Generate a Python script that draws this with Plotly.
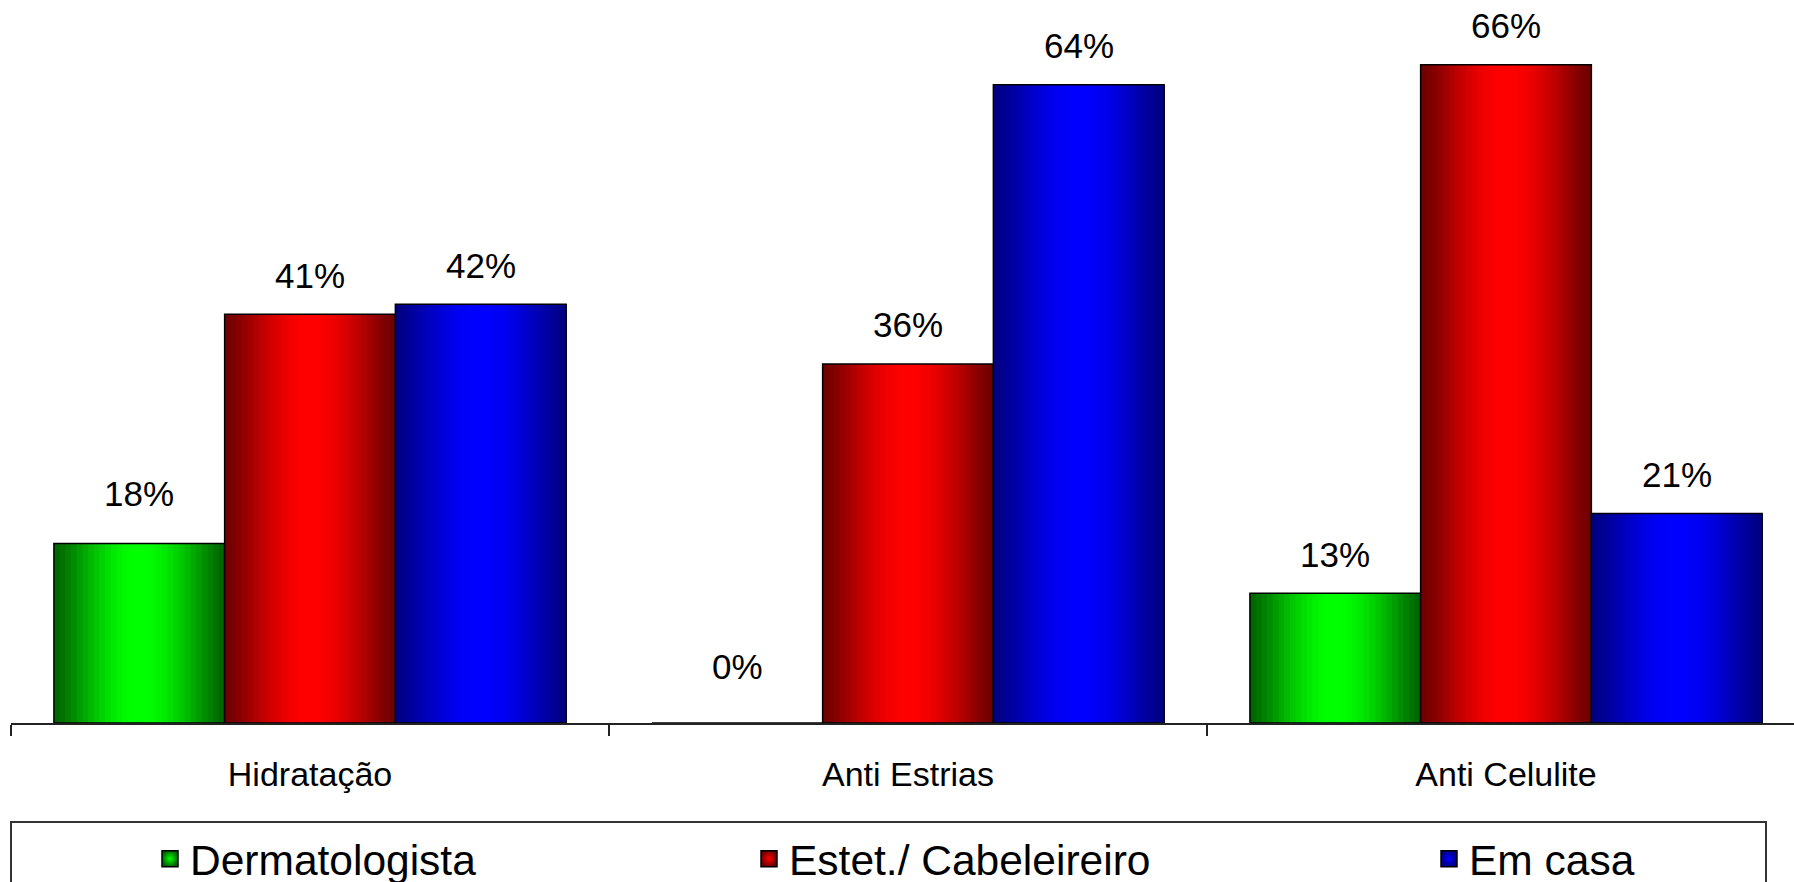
import math
import plotly.graph_objects as go

# ---------------- data ----------------
categories = ["Hidratação", "Anti Estrias", "Anti Celulite"]
series_names = ["Dermatologista", "Estet./ Cabeleireiro", "Em casa"]
dermatologista = [0.18, 0.00, 0.13]
estet_cabeleireiro = [0.41, 0.36, 0.66]
em_casa = [0.42, 0.64, 0.21]
series_values = [dermatologista, estet_cabeleireiro, em_casa]

# ---------------- styles ----------------
edge_colors = [(0, 100, 0), (110, 0, 0), (0, 0, 130)]
center_colors = [(0, 255, 0), (255, 0, 0), (0, 0, 255)]
legend_widths = [554, 635, 250]
label_lift = 39                      # px between bar top and label centre
label_extra_lift = {(0, 0): 11, (0, 1): 18}   # (series, category) -> extra px
FONT = "Liberation Sans, Arial, sans-serif"

W, H = 1794, 882
M_L, M_R, M_T, M_B = 11, 0, 0, 159
plot_w = W - M_L - M_R
plot_h = H - M_T - M_B
cat_px = 598.0
x_range = [-0.5, -0.5 + plot_w / cat_px]
y_max = 0.725
bar_w = 0.2855
n_strips = 30


def mix(a, b, f):
    return "rgb(%d,%d,%d)" % tuple(round(a[i] + (b[i] - a[i]) * f) for i in range(3))


fig = go.Figure()

for s, (name, vals) in enumerate(zip(series_names, series_values)):
    off0 = (s - 1.5) * bar_w
    sw = bar_w / n_strips
    for k in range(n_strips):
        t = (k + 0.5) / n_strips
        f = math.sin(math.pi * t) ** 1.3
        # each strip runs to the bar's right edge; later strips cover earlier ones (no seams)
        fig.add_trace(go.Bar(
            x=categories, y=vals,
            width=[bar_w - k * sw] * len(categories),
            offset=[off0 + k * sw] * len(categories),
            marker=dict(color=mix(edge_colors[s], center_colors[s], f), line=dict(width=0)),
            showlegend=False, hoverinfo="skip",
        ))
    # outline
    fig.add_trace(go.Bar(
        x=categories, y=vals,
        width=[bar_w] * len(categories),
        offset=[off0] * len(categories),
        marker=dict(color="rgba(0,0,0,0)", line=dict(color="black", width=1.5)),
        showlegend=False, name=name,
        hovertemplate="%{x}: %{y:.0%}<extra>" + name + "</extra>",
    ))

# legend entries
for s, name in enumerate(series_names):
    fig.add_trace(go.Scatter(
        x=[None], y=[None], mode="markers", name=name,
        marker=dict(symbol="square", size=16,
                    color=mix(edge_colors[s], edge_colors[s], 0),
                    gradient=dict(type="radial", color=mix(center_colors[s], center_colors[s], 0)),
                    line=dict(color="black", width=1.5)),
        legendwidth=legend_widths[s],
    ))

# data labels
annotations = []
for s, vals in enumerate(series_values):
    for i, v in enumerate(vals):
        annotations.append(dict(
            x=i + (s - 1) * bar_w, y=v, xref="x", yref="y",
            text="%d%%" % round(v * 100), showarrow=False,
            yanchor="middle", yshift=label_lift + label_extra_lift.get((s, i), 0),
            font=dict(family=FONT, size=35, color="black"),
        ))


def py(px_y):
    return (plot_h - px_y + M_T) / plot_h


def pxx(px_x):
    return (px_x - M_L) / plot_w


fig.update_layout(
    width=W, height=H,
    margin=dict(l=M_L, r=M_R, t=M_T, b=M_B, autoexpand=False),
    paper_bgcolor="white", plot_bgcolor="white",
    barmode="overlay",
    font=dict(family=FONT, color="black"),
    xaxis=dict(
        type="category", categoryorder="array", categoryarray=categories,
        range=x_range, showgrid=False, zeroline=False,
        showline=True, linecolor="#222", linewidth=1.5,
        ticks="outside", ticklen=11, tickwidth=1.5, tickcolor="#222",
        tickson="boundaries", ticklabelstandoff=20,
        tickfont=dict(family=FONT, size=34, color="black"),
    ),
    yaxis=dict(range=[0, y_max], visible=False, showgrid=False, zeroline=False),
    showlegend=True,
    legend=dict(
        orientation="h", x=pxx(150), xanchor="left",
        y=py(859), yanchor="middle",
        font=dict(family=FONT, size=42.5, color="black"),
        bgcolor="rgba(0,0,0,0)", borderwidth=0,
        itemclick=False, itemdoubleclick=False,
    ),
    annotations=annotations,
    shapes=[dict(
        type="rect", xref="paper", yref="paper",
        x0=pxx(11), x1=pxx(1766), y0=py(822), y1=py(1000),
        line=dict(color="#333", width=2), fillcolor="rgba(0,0,0,0)",
    )],
)

fig.write_html(
    "out.html",
    config={"displayModeBar": False},
    post_script="document.body.style.margin='0';document.body.style.overflow='hidden';",
)
